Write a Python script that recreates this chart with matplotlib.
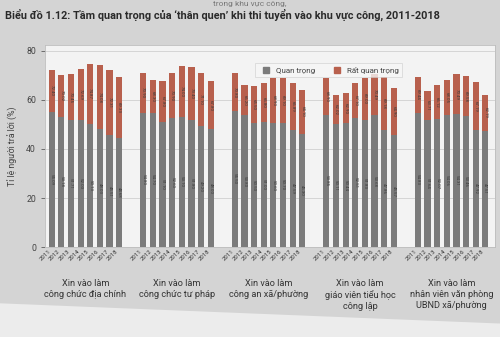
import matplotlib.pyplot as plt
from matplotlib.lines import Line2D
from matplotlib.patches import Polygon
from matplotlib.transforms import blended_transform_factory

years = ["2011", "2012", "2013", "2014", "2015", "2016", "2017", "2018"]
groups = [
    "Xin vào làm\ncông chức địa chính",
    "Xin vào làm\ncông chức tư pháp",
    "Xin vào làm\ncông an xã/phường",
    "Xin vào làm\ngiáo viên tiểu học\ncông lập",
    "Xin vào làm\nnhân viên văn phòng\nUBND xã/phường",
]

# share answering "quan trọng" (grey) per group, 2011-2018
quan_trong_dia_chinh = [55.09, 53.18, 51.71, 52.03, 50.13, 48.03, 45.51, 44.68]
quan_trong_tu_phap = [54.80, 54.70, 51.10, 52.60, 53.10, 51.80, 49.20, 48.00]
quan_trong_cong_an = [55.50, 53.80, 50.50, 51.00, 50.60, 50.70, 47.59, 46.30]
quan_trong_giao_vien = [53.85, 50.11, 50.44, 52.51, 51.83, 53.68, 47.86, 45.57]
quan_trong_ubnd = [54.83, 51.64, 52.07, 54.06, 54.31, 53.46, 47.92, 47.51]

# share answering "rất quan trọng" (red) per group, 2011-2018
rat_qt_dia_chinh = [17.31, 16.84, 18.74, 20.66, 24.74, 26.05, 26.80, 24.65]
rat_qt_tu_phap = [16.10, 13.60, 16.70, 18.30, 20.90, 21.60, 21.90, 19.80]
rat_qt_cong_an = [15.30, 12.40, 15.00, 15.80, 18.30, 18.40, 19.30, 17.80]
rat_qt_giao_vien = [15.05, 11.91, 12.46, 14.59, 17.17, 16.81, 21.32, 19.33]
rat_qt_ubnd = [14.61, 12.07, 14.05, 13.99, 16.18, 16.12, 19.27, 14.68]

quan_trong = [quan_trong_dia_chinh, quan_trong_tu_phap, quan_trong_cong_an,
              quan_trong_giao_vien, quan_trong_ubnd]
rat_qt = [rat_qt_dia_chinh, rat_qt_tu_phap, rat_qt_cong_an,
          rat_qt_giao_vien, rat_qt_ubnd]

grey = "#7b7b7b"
red = "#b8604d"

plt.rcParams['font.family'] = ['Roboto', 'DejaVu Sans']

fig = plt.figure(figsize=(5, 3.37), dpi=100, facecolor="#d4d4d4")
# lighter page edge at the bottom of the photo
fig.patches.append(Polygon([[0, 0], [1, 0], [1, 0.04], [0, 0.1]], closed=True,
                           transform=fig.transFigure, facecolor="#ececec",
                           edgecolor="none", zorder=0))

fig.text(0.5, 0.988, "trong khu vực công,", ha="center", va="center",
         fontsize=6, color="#777777")
fig.text(0.01, 0.955, "Biểu đồ 1.12: Tầm quan trọng của ‘thân quen’ khi thi tuyển vào khu vực công, 2011-2018",
         ha="left", va="center", fontsize=7.8, fontweight="bold", color="#2a2a2a")

ax = fig.add_axes([0.09, 0.267, 0.9, 0.6])
ax.set_facecolor("#f3f3f3")

xs_all, labels_all = [], []
step = 9.5
trans = blended_transform_factory(ax.transData, ax.transAxes)
for g in range(len(groups)):
    xs = [g * step + i for i in range(len(years))]
    ax.bar(xs, quan_trong[g], width=0.64, color=grey, zorder=3)
    ax.bar(xs, rat_qt[g], width=0.64, bottom=quan_trong[g], color=red, zorder=3)
    for x, q, r in zip(xs, quan_trong[g], rat_qt[g]):
        ax.text(x, q / 2, f"{q:.2f}", rotation=-90, ha="center", va="center",
                fontsize=3.2, color="#3a3a3a", zorder=4)
        ax.text(x, q + r / 2, f"{q + r:.2f}", rotation=-90, ha="center", va="center",
                fontsize=3.2, color="#3a3a3a", zorder=4)
    xs_all += xs
    labels_all += years
    ax.text(g * step + 3.5, -0.16, groups[g], transform=trans, ha="center", va="top",
            fontsize=6.6, color="#333333", linespacing=1.25)

ax.set_xticks(xs_all)
ax.set_xticklabels(labels_all, rotation=45, ha="right", fontsize=4.3, color="#333333")
ax.tick_params(axis="x", length=0, pad=1)
ax.set_xlim(-0.7, 4 * step + 7 + 1.0)

ax.set_ylim(0, 82.5)
ax.set_yticks([0, 20, 40, 60, 80])
ax.tick_params(axis="y", labelsize=6.3, colors="#444444", length=3, width=0.5)
ax.set_ylabel("Tỉ lệ người trả lời (%)", fontsize=6.3, color="#444444", labelpad=6)
ax.grid(axis="y", color="#d0d0d0", linewidth=0.6, zorder=0)
for s in ax.spines.values():
    s.set_color("#bdbdbd")
    s.set_linewidth(0.6)

handles = [Line2D([], [], marker="s", linestyle="none", color=grey, markersize=4),
           Line2D([], [], marker="s", linestyle="none", color=red, markersize=4)]
leg = ax.legend(handles, ["Quan trọng", "Rất quan trọng"], ncol=2, fontsize=5.8,
                loc="center", bbox_to_anchor=(0.63, 0.875), frameon=True,
                handletextpad=0.2, columnspacing=1.8, borderpad=0.4,
                fancybox=False)
leg.get_frame().set_facecolor("#f6f6f6")
leg.get_frame().set_edgecolor("#cccccc")
leg.get_frame().set_linewidth(0.5)
for t in leg.get_texts():
    t.set_color("#444444")

fig.savefig("out.png", dpi=100, facecolor=fig.get_facecolor())
